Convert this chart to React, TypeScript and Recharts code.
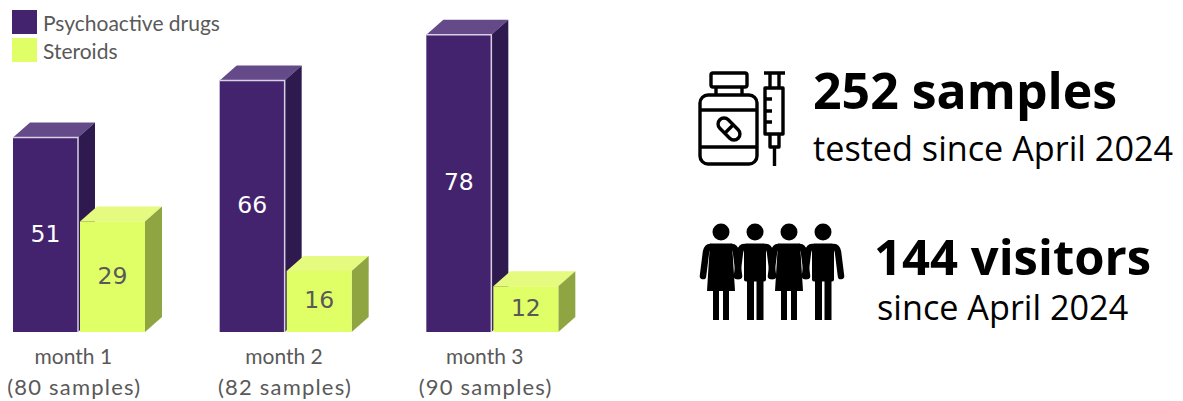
import { BarChart, Bar, XAxis, YAxis, Legend, LabelList } from 'recharts';

const MONTHS = ['month 1', 'month 2', 'month 3'];
const SAMPLE_LABELS = ['(80 samples)', '(82 samples)', '(90 samples)'];
const PSYCHOACTIVE = [51, 66, 78];
const STEROIDS = [29, 16, 12];

const data = MONTHS.map((month, i) => ({
  month,
  samples: SAMPLE_LABELS[i],
  psychoactive: PSYCHOACTIVE[i],
  steroids: STEROIDS[i],
}));

const PURPLE = { front: '#44236e', top: '#654a8a', side: '#2e1a4e', edge: '#d9d0e4' };
const GREEN = { front: '#e0ff66', top: '#e4fb80', side: '#8fa542', edge: 'none' };
const DEPTH_X = 17;
const DEPTH_Y = 15;
const LABEL_FONT = 'Lato, sans-serif';

function box(colors: typeof PURPLE) {
  return (props: any) => {
    const { x, y, width, height } = props;
    const r = x + width;
    const b = y + height;
    return (
      <g>
        <polygon
          points={`${x},${y} ${x + DEPTH_X},${y - DEPTH_Y} ${r + DEPTH_X},${y - DEPTH_Y} ${r},${y}`}
          fill={colors.top}
        />
        <polygon
          points={`${r},${y} ${r + DEPTH_X},${y - DEPTH_Y} ${r + DEPTH_X},${b - DEPTH_Y} ${r},${b}`}
          fill={colors.side}
        />
        <rect x={x} y={y} width={width} height={height} fill={colors.front} />
        {colors.edge !== 'none' && (
          <path d={`M${x},${y} H${r} V${b}`} fill="none" stroke={colors.edge} strokeWidth={1.5} />
        )}
      </g>
    );
  };
}

const TICK_SHIFT = [-6, -2, -8];

function MonthTick({ x, y, payload }: any) {
  const i = payload.index;
  return (
    <g fontFamily={LABEL_FONT} fill="#595959" textAnchor="middle">
      <text x={x + TICK_SHIFT[i]} y={y + 24} fontSize={21}>{MONTHS[i]}</text>
      <text x={x + TICK_SHIFT[i] + 1} y={y + 55} fontSize={22} letterSpacing={1.2}>{SAMPLE_LABELS[i]}</text>
    </g>
  );
}

function LegendBox({ payload }: any) {
  return (
    <div style={{ fontFamily: LABEL_FONT, fontSize: 21, color: '#595959' }}>
      {(payload ?? []).map((p: any) => (
        <div key={p.value} style={{ display: 'flex', alignItems: 'center', height: 28 }}>
          <span style={{ width: 25, height: 24, background: p.color, marginRight: 6 }} />
          {p.value}
        </div>
      ))}
    </div>
  );
}

function BottleIcon() {
  return (
    <svg width={100} height={100} viewBox="690 70 100 100" style={{ position: 'absolute', left: 690, top: 70 }}>
      <g fill="none" stroke="#000" strokeWidth={3.4} strokeLinejoin="round">
        <rect x={711} y={73} width={36} height={14} rx={2} />
        <path d="M716,87 V95 M742,87 V95" />
        <rect x={700} y={95} width={57} height={69} rx={8} />
        <path d="M700,110 H757 M700,147 H757" />
        <g transform="rotate(45 729 129)">
          <rect x={716} y={123} width={26} height={12} rx={6} />
          <path d="M729,123 V135" />
        </g>
        <path d="M764,73 H785 M770,73 V88 M779,73 V88" />
        <rect x={765} y={88} width={18} height={46} />
        <path d="M765,99 H772 M765,111 H772 M765,122 H772" />
        <path d="M770,134 V147 H779 V134 M774.5,147 V166" />
      </g>
    </svg>
  );
}

function PeopleIcon() {
  const arms = (cx: number) => (
    <path
      d={`M${cx - 11},247 Q${cx - 14},247 ${cx - 15},252 L${cx - 18},276 M${cx + 11},247 Q${cx + 14},247 ${cx + 15},252 L${cx + 18},276`}
      fill="none"
      stroke="#000"
      strokeWidth={6.5}
      strokeLinecap="round"
    />
  );
  const woman = (cx: number) => (
    <g key={cx}>
      <circle cx={cx} cy={232} r={8.5} />
      <path d={`M${cx - 11},243.5 H${cx + 11} L${cx + 14},291 H${cx - 14} Z`} />
      {arms(cx)}
      <rect x={cx - 8} y={285} width={6} height={35} />
      <rect x={cx + 2} y={285} width={6} height={35} />
    </g>
  );
  const man = (cx: number) => (
    <g key={cx}>
      <circle cx={cx} cy={232} r={8.5} />
      <rect x={cx - 11} y={243.5} width={22} height={38} rx={2} />
      {arms(cx)}
      <rect x={cx - 8} y={275} width={7} height={45} />
      <rect x={cx + 1.5} y={275} width={7} height={45} />
    </g>
  );
  return (
    <svg width={160} height={100} viewBox="695 222 160 100" style={{ position: 'absolute', left: 695, top: 222 }}>
      {woman(721)}
      {man(755)}
      {woman(789)}
      {man(823)}
    </svg>
  );
}

const statFont = '"Open Sans", sans-serif';

function Stat({ text, left, top, size, bold }: { text: string; left: number; top: number; size: number; bold?: boolean }) {
  return (
    <div
      style={{
        position: 'absolute',
        left,
        top,
        fontFamily: statFont,
        fontSize: size,
        fontWeight: bold ? 700 : 400,
        lineHeight: 1,
        whiteSpace: 'nowrap',
        color: '#000',
      }}
    >
      {text}
    </div>
  );
}

export default function App() {
  return (
    <div style={{ position: 'absolute', left: 0, top: 0, width: 1183, height: 401, overflow: 'hidden', background: '#fff' }}>
      <div style={{ position: 'absolute', left: -24, top: 0 }}>
        <BarChart
          width={620}
          height={401}
          data={data}
          margin={{ top: 27, right: 0, bottom: 0, left: 0 }}
          barSize={65}
          barGap={2}
          style={{ overflow: 'visible' }}
        >
          <XAxis dataKey="month" height={69} axisLine={false} tickLine={false} tick={<MonthTick />} interval={0} />
          <YAxis hide domain={[0, 80]} />
          <Legend
            layout="vertical"
            verticalAlign="middle"
            align="center"
            content={<LegendBox />}
            wrapperStyle={{ left: 36, top: 8, width: 240 }}
          />
          <Bar dataKey="psychoactive" name="Psychoactive drugs" fill={PURPLE.front} shape={box(PURPLE)} isAnimationActive={false}>
            <LabelList dataKey="psychoactive" position="center" fill="#fff" fontSize={23.5} fontFamily="DejaVu Sans" dy={-1.5} />
          </Bar>
          <Bar dataKey="steroids" name="Steroids" fill={GREEN.front} shape={box(GREEN)} isAnimationActive={false}>
            <LabelList dataKey="steroids" position="center" fill="#595959" fontSize={23.5} fontFamily="DejaVu Sans" dy={-1.5} />
          </Bar>
        </BarChart>
      </div>
      <BottleIcon />
      <PeopleIcon />
      <Stat text="252 samples" left={813} top={65} size={50} bold />
      <Stat text="tested since April 2024" left={813} top={131} size={34.2} />
      <Stat text="144 visitors" left={874} top={232} size={49} bold />
      <Stat text="since April 2024" left={877} top={290} size={34.2} />
    </div>
  );
}
